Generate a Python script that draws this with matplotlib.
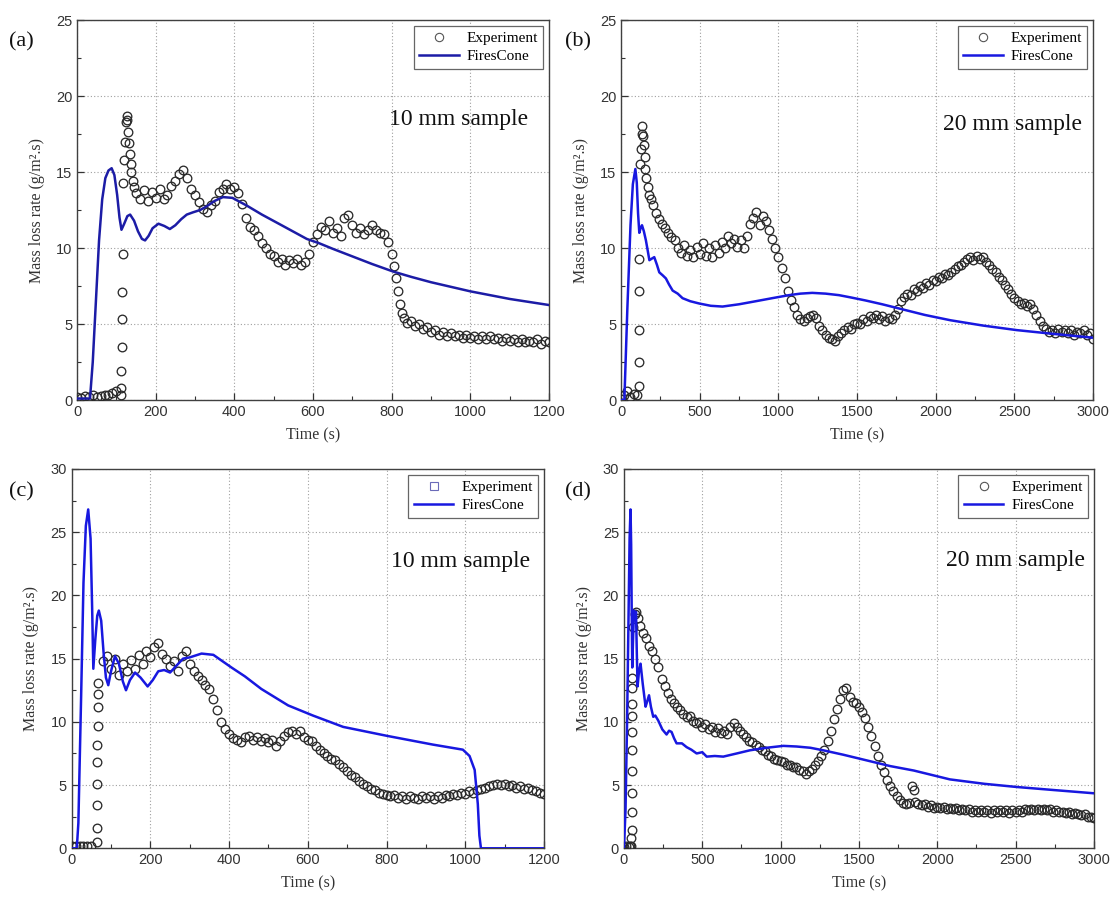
import matplotlib
matplotlib.use("Agg")
import matplotlib.pyplot as plt
from matplotlib.lines import Line2D
from matplotlib.ticker import MultipleLocator

# ---------------- Panel (a): 10 mm sample ----------------
a_exp_t = [0, 10, 20, 30, 40, 50, 60, 70, 80, 90, 100,
           112, 113, 113, 114, 114, 115, 116,
           118, 120, 122, 124, 126, 128, 130, 132, 134, 136, 138, 142, 146,
           150, 160, 170, 180, 190, 200, 210, 220, 230, 240, 250, 260, 270, 280, 290,
           300, 310, 320, 330, 340, 350, 360, 370, 380, 390, 400, 410, 420, 430, 440,
           450, 460, 470, 480, 490, 500, 510, 520, 530, 540, 550, 560, 570, 580, 590,
           600, 610, 620, 630, 640, 650, 660, 670, 680, 690, 700, 710, 720, 730, 740,
           750, 760, 770, 780, 790, 800, 805, 810, 815, 820, 825, 830, 840, 850, 860,
           870, 880, 890, 900, 910, 920, 930, 940, 950, 960, 970, 980, 990, 1000,
           1010, 1020, 1030, 1040, 1050, 1060, 1070, 1080, 1090, 1100, 1110, 1120,
           1130, 1140, 1150, 1160, 1170, 1180, 1190, 1200]
a_exp_y = [0.2, 0.15, 0.25, 0.2, 0.3, 0.2, 0.25, 0.3, 0.35, 0.45, 0.6,
           0.3, 0.8, 1.9, 3.5, 5.3, 7.1, 9.6,
           14.3, 15.8, 17.0, 18.3, 18.7, 18.4, 17.6, 16.9, 16.2, 15.5, 15.0, 14.4, 14.0,
           13.6, 13.2, 13.8, 13.1, 13.7, 13.3, 13.9, 13.2, 13.5, 14.1, 14.4, 14.9, 15.1, 14.6, 13.9,
           13.5, 13.0, 12.6, 12.4, 12.8, 13.1, 13.7, 13.9, 14.2, 13.9, 14.0, 13.6, 12.9, 12.0, 11.4,
           11.2, 10.8, 10.3, 10.0, 9.6, 9.5, 9.1, 9.3, 8.9, 9.2, 9.0, 9.3, 8.9, 9.1, 9.6,
           10.4, 10.9, 11.4, 11.2, 11.8, 11.0, 11.3, 10.8, 12.0, 12.2, 11.5, 11.0, 11.3, 10.9, 11.2,
           11.5, 11.2, 11.0, 10.9, 10.4, 9.6, 8.8, 8.0, 7.2, 6.3, 5.7, 5.4, 5.1, 5.2, 4.9,
           5.0, 4.7, 4.8, 4.5, 4.6, 4.3, 4.5, 4.2, 4.4, 4.2, 4.3, 4.1, 4.3, 4.1,
           4.2, 4.0, 4.2, 4.0, 4.2, 4.0, 4.1, 3.9, 4.1, 3.9, 4.0, 3.8,
           4.0, 3.8, 3.9, 3.8, 4.0, 3.7, 3.9, 3.8]
a_mod_t = [0, 33, 40, 48, 56, 64, 72, 80, 88, 95, 102, 108, 113, 120, 128, 135, 145,
           155, 165, 173, 182, 192, 207, 222, 236, 250, 265, 279, 295, 313, 330, 350,
           371, 395, 431, 470, 520, 584, 617, 650, 700, 750, 804, 850, 900, 950, 1000,
           1050, 1100, 1150, 1200]
a_mod_y = [0.1, 0.1, 2.5, 6.5, 10.5, 13.2, 14.6, 15.1, 15.25, 14.8, 13.5, 12.0, 11.2, 11.6,
           12.1, 12.2, 11.8, 11.1, 10.6, 10.5, 10.8, 11.3, 11.6, 11.45, 11.25, 11.5, 11.9, 12.2,
           12.35, 12.5, 12.75, 13.1, 13.35, 13.3, 12.8, 12.2, 11.5, 10.6, 10.3, 9.95, 9.45,
           8.95, 8.45, 8.1, 7.75, 7.45, 7.15, 6.9, 6.65, 6.45, 6.25]

# ---------------- Panel (b): 20 mm sample ----------------
b_exp_t = [0, 20, 40, 60, 80, 100,
           112, 112, 113, 113, 114,
           120, 125, 130, 135, 140, 145, 150, 155, 160, 170, 180, 190,
           200, 220, 240, 260, 280, 300, 320, 340, 360, 380, 400, 420, 440, 460, 480,
           500, 520, 540, 560, 580, 600, 620, 640, 660, 680, 700, 720, 740, 760, 780,
           800, 820, 840, 860, 880, 900, 920, 940, 960, 980, 1000, 1020, 1040, 1060, 1080,
           1100, 1120, 1140, 1160, 1180, 1200, 1220, 1240, 1260, 1280, 1300, 1320, 1340,
           1360, 1380, 1400, 1420, 1440, 1460, 1480, 1500, 1520, 1540, 1560, 1580, 1600,
           1620, 1640, 1660, 1680, 1700, 1720, 1740, 1760, 1780, 1800, 1820, 1840, 1860,
           1880, 1900, 1920, 1940, 1960, 1980, 2000, 2020, 2040, 2060, 2080, 2100, 2120,
           2140, 2160, 2180, 2200, 2220, 2240, 2260, 2280, 2300, 2320, 2340, 2360, 2380,
           2400, 2420, 2440, 2460, 2480, 2500, 2520, 2540, 2560, 2580, 2600, 2620, 2640,
           2660, 2680, 2700, 2720, 2740, 2760, 2780, 2800, 2820, 2840, 2860, 2880, 2900,
           2920, 2940, 2960, 2980, 3000]
b_exp_y = [0.1, 0.3, 0.6, 0.2, 0.4, 0.3,
           0.9, 2.5, 4.6, 7.2, 9.3,
           15.5, 16.5, 17.5, 18.0, 17.4, 16.8, 16.0, 15.2, 14.6, 14.0, 13.5, 13.2,
           12.8, 12.3, 11.9, 11.6, 11.3, 11.0, 10.7, 10.5, 10.0, 9.7, 10.2, 9.5, 9.9, 9.4, 10.1,
           9.6, 10.3, 9.5, 10.0, 9.4, 10.2, 9.7, 10.4, 10.0, 10.8, 10.3, 10.6, 10.1, 10.5, 10.0,
           10.8, 11.6, 12.0, 12.4, 11.5, 12.1, 11.8, 11.2, 10.6, 10.0, 9.4, 8.7, 8.0, 7.2, 6.6,
           6.1, 5.6, 5.3, 5.2, 5.4, 5.5, 5.6, 5.4, 4.9, 4.6, 4.3, 4.1, 4.0,
           3.9, 4.2, 4.4, 4.6, 4.8, 4.7, 5.0, 5.1, 5.0, 5.3, 5.2, 5.5, 5.4,
           5.6, 5.3, 5.5, 5.2, 5.4, 5.3, 5.6, 6.0, 6.5, 6.8, 7.0, 6.9, 7.3,
           7.2, 7.5, 7.4, 7.7, 7.6, 7.9, 7.8, 8.1, 8.0, 8.3, 8.2, 8.4, 8.6,
           8.8, 8.9, 9.1, 9.3, 9.4, 9.2, 9.5, 9.3, 9.4, 9.1, 8.9, 8.6, 8.4,
           8.1, 7.9, 7.6, 7.3, 7.0, 6.7, 6.5, 6.3, 6.4, 6.2, 6.3, 6.0, 5.6,
           5.2, 4.9, 4.7, 4.5, 4.6, 4.4, 4.7, 4.5, 4.6, 4.4, 4.6, 4.3, 4.5,
           4.4, 4.6, 4.3, 4.4, 4.0]
b_mod_t = [0, 21, 40, 60, 75, 91, 100, 108, 116, 124, 133, 145, 158, 170, 180, 195,
           211, 228, 243, 265, 285, 305, 328, 360, 391, 440, 497, 570, 645, 750, 856,
           960, 1067, 1140, 1215, 1300, 1385, 1460, 1554, 1660, 1776, 1930, 2093,
           2300, 2515, 2750, 3000]
b_mod_y = [0.0, 0.0, 6.0, 11.5, 14.2, 15.2, 14.3, 12.3, 11.0, 11.3, 11.5, 11.1, 10.5,
           9.8, 9.2, 9.3, 9.4, 8.9, 8.4, 8.2, 8.0, 7.6, 7.2, 7.0, 6.7, 6.5, 6.35, 6.2,
           6.15, 6.3, 6.5, 6.7, 6.9, 7.0, 7.05, 7.0, 6.9, 6.75, 6.55, 6.3, 6.0, 5.6,
           5.25, 4.9, 4.6, 4.35, 4.1]

# ---------------- Panel (c): 10 mm sample ----------------
c_exp_t = [0, 10, 20, 30, 40, 50,
           65, 65, 65, 65, 65, 65, 66, 66, 66, 66,
           80, 90, 100, 110, 120, 130, 140, 150, 160, 170, 180, 190, 200, 210, 220,
           230, 240, 250, 260, 270, 280, 290, 300, 310, 320, 330, 340, 350, 360, 370,
           380, 390, 400, 410, 420, 430, 440, 450, 460, 470, 480, 490, 500, 510, 520,
           530, 540, 550, 560, 570, 580, 590, 600, 610, 620, 630, 640, 650, 660, 670,
           680, 690, 700, 710, 720, 730, 740, 750, 760, 770, 780, 790, 800, 810, 820,
           830, 840, 850, 860, 870, 880, 890, 900, 910, 920, 930, 940, 950, 960, 970,
           980, 990, 1000, 1010, 1020, 1030, 1040, 1050, 1060, 1070, 1080, 1090, 1100,
           1110, 1120, 1130, 1140, 1150, 1160, 1170, 1180, 1190, 1200]
c_exp_y = [0.2, 0.2, 0.2, 0.2, 0.2, 0.2,
           0.5, 1.6, 3.4, 5.1, 6.8, 8.2, 9.7, 11.2, 12.2, 13.1,
           14.8, 15.2, 14.2, 15.0, 13.7, 14.6, 14.0, 14.9, 14.2, 15.3, 14.6, 15.6, 15.1, 15.9, 16.2,
           15.4, 15.0, 14.4, 14.8, 14.0, 15.2, 15.6, 14.6, 14.0, 13.6, 13.3, 12.9, 12.6, 11.8, 10.9,
           10.0, 9.4, 9.0, 8.7, 8.6, 8.4, 8.8, 8.9, 8.6, 8.8, 8.5, 8.7, 8.4, 8.6, 8.1,
           8.5, 8.9, 9.2, 9.3, 9.0, 9.3, 8.8, 8.6, 8.5, 8.1, 7.8, 7.5, 7.3, 7.1, 7.0,
           6.7, 6.4, 6.1, 5.8, 5.6, 5.3, 5.1, 4.9, 4.7, 4.6, 4.4, 4.3, 4.2, 4.1, 4.2,
           4.0, 4.1, 3.9, 4.1, 4.0, 3.9, 4.1, 4.0, 4.1, 3.9, 4.1, 4.0, 4.2, 4.1, 4.3,
           4.2, 4.4, 4.3, 4.5, 4.4, 4.6, 4.7, 4.8, 4.9, 5.0, 5.1, 5.0, 5.1,
           4.9, 5.0, 4.8, 4.9, 4.7, 4.8, 4.6, 4.5, 4.4, 4.3]
c_mod_t = [0, 13, 17, 24, 30, 36, 42, 48, 52, 55, 60, 65, 69, 75, 81, 87, 93, 100,
           110, 120, 130, 138, 148, 161, 175, 193, 206, 220, 235, 250, 265, 283, 300,
           330, 360, 406, 440, 482, 550, 613, 690, 800, 918, 994, 1011, 1024, 1032,
           1036, 1040, 1100, 1200]
c_mod_y = [0.0, 0.0, 2.0, 12.0, 21.0, 25.5, 26.8, 24.5, 19.0, 14.2, 16.5, 18.4, 18.8,
           18.0, 15.5, 13.5, 12.9, 14.0, 15.2, 14.6, 13.2, 12.5, 13.3, 13.9, 13.5, 12.8,
           13.3, 14.0, 14.1, 13.9, 14.4, 15.0, 15.1, 15.4, 15.3, 14.3, 13.6, 12.6, 11.3,
           10.5, 9.6, 8.9, 8.2, 7.8, 7.3, 6.2, 3.5, 1.0, 0.0, 0.0, 0.0]

# ---------------- Panel (d): 20 mm sample ----------------
d_exp_t = [0, 15, 30, 40,
           48, 48, 49, 49, 49, 50, 50, 50, 51, 51, 52, 52,
           60, 70, 80, 90, 100, 120, 140, 160, 180, 200, 220, 240, 260, 280, 300,
           320, 340, 360, 380, 400, 420, 440, 460, 480, 500, 520, 540, 560, 580, 600,
           620, 640, 660, 680, 700, 720, 740, 760, 780, 800, 820, 840, 860, 880, 900,
           920, 940, 960, 980, 1000, 1020, 1040, 1060, 1080, 1100, 1120, 1140, 1160,
           1180, 1200, 1220, 1240, 1260, 1280, 1300, 1320, 1340, 1360, 1380, 1400, 1420,
           1440, 1460, 1480, 1500, 1520, 1540, 1560, 1580, 1600, 1620, 1640, 1660, 1680,
           1700, 1720, 1740, 1760, 1780, 1800, 1820, 1840, 1850, 1860, 1880, 1900, 1920,
           1940, 1960, 1980, 2000, 2020, 2040, 2060, 2080, 2100, 2120, 2140, 2160, 2180,
           2200, 2220, 2240, 2260, 2280, 2300, 2320, 2340, 2360, 2380, 2400, 2420, 2440,
           2460, 2480, 2500, 2520, 2540, 2560, 2580, 2600, 2620, 2640, 2660, 2680, 2700,
           2720, 2740, 2760, 2780, 2800, 2820, 2840, 2860, 2880, 2900, 2920, 2940, 2960,
           2980, 3000]
d_exp_y = [0.1, 0.2, 0.1, 0.2,
           0.15, 0.8, 1.45, 2.9, 4.4, 6.1, 7.8, 9.2, 10.5, 11.4, 12.7, 13.5,
           17.5, 18.5, 18.7, 18.2, 17.6, 17.0, 16.6, 16.0, 15.6, 15.0, 14.3, 13.4, 12.8, 12.3, 11.8,
           11.5, 11.2, 10.9, 10.6, 10.4, 10.5, 10.1, 9.9, 10.0, 9.6, 9.8, 9.4, 9.6, 9.2, 9.5,
           9.1, 9.3, 9.0, 9.6, 9.9, 9.6, 9.3, 9.0, 8.8, 8.5, 8.4, 8.2, 8.0, 7.8, 7.7,
           7.4, 7.3, 7.1, 7.0, 6.9, 6.8, 6.6, 6.6, 6.4, 6.4, 6.2, 6.1, 5.9,
           6.1, 6.3, 6.6, 6.9, 7.3, 7.8, 8.5, 9.3, 10.2, 11.0, 11.8, 12.5, 12.7,
           12.0, 11.6, 11.5, 11.2, 10.8, 10.3, 9.6, 8.9, 8.1, 7.3, 6.6, 6.0, 5.4,
           4.9, 4.5, 4.1, 3.8, 3.6, 3.5, 3.6, 4.9, 4.6, 3.7, 3.5, 3.4, 3.5,
           3.3, 3.4, 3.2, 3.3, 3.2, 3.3, 3.1, 3.2, 3.1, 3.2, 3.0, 3.1, 3.0,
           3.1, 2.9, 3.0, 2.9, 3.0, 2.9, 3.0, 2.8, 3.0, 2.9, 3.0, 2.9, 3.0,
           2.8, 3.0, 2.9, 3.0, 2.9, 3.1, 3.0, 3.1, 3.0, 3.1, 3.0, 3.1, 3.0,
           3.1, 2.9, 3.0, 2.9, 2.9, 2.8, 2.9, 2.7, 2.8, 2.7, 2.6, 2.7, 2.5,
           2.5, 2.4]
d_mod_t = [0, 10, 20, 30, 36, 42, 46, 50, 53, 58, 64, 70, 77, 82, 87, 96, 106, 120,
           138, 148, 160, 172, 187, 200, 219, 245, 272, 288, 304, 320, 336, 370, 400,
           430, 464, 500, 528, 580, 634, 720, 804, 910, 1017, 1102, 1190, 1272, 1400,
           1500, 1600, 1700, 1850, 2080, 2300, 2506, 2750, 3000]
d_mod_y = [0.0, 3.0, 10.0, 19.0, 24.5, 26.8, 24.0, 18.0, 14.3, 16.5, 18.8, 18.5, 18.7,
           15.5, 12.8, 14.0, 14.6, 13.0, 11.2, 11.6, 12.1, 11.2, 10.4, 10.5, 10.1, 9.4,
           9.0, 9.3, 9.2, 8.7, 8.3, 8.3, 8.0, 7.8, 7.5, 7.6, 7.25, 7.3, 7.25, 7.5, 7.75,
           7.95, 8.1, 8.05, 7.95, 7.75, 7.4, 7.1, 6.8, 6.5, 6.15, 5.45, 5.1, 4.85, 4.6, 4.35]

panel_labels = ["(a)", "(b)", "(c)", "(d)"]
sample_texts = ["10 mm sample", "20 mm sample", "10 mm sample", "20 mm sample"]
x_limits = [1200, 3000, 1200, 3000]
x_major = [200, 500, 200, 500]
y_limits = [25, 25, 30, 30]
legend_labels = ["Experiment", "FiresCone"]

SERIF = "Liberation Serif"
SANS = "Liberation Sans"

fig = plt.figure(figsize=(11.13, 9.01), dpi=100)
positions = [
    [0.0692, 0.5560, 0.4241, 0.4218],
    [0.5580, 0.5560, 0.4241, 0.4218],
    [0.0644, 0.0585, 0.4243, 0.4210],
    [0.5606, 0.0585, 0.4223, 0.4210],
]
label_pos = [(0.008, 0.953), (0.508, 0.953), (0.008, 0.454), (0.508, 0.454)]
text_pos = [(0.955, 0.737), (0.977, 0.724), (0.971, 0.755), (0.981, 0.76)]

data = [
    (a_exp_t, a_exp_y, a_mod_t, a_mod_y, "#1c1ca6"),
    (b_exp_t, b_exp_y, b_mod_t, b_mod_y, "#1818e0"),
    (c_exp_t, c_exp_y, c_mod_t, c_mod_y, "#1818e0"),
    (d_exp_t, d_exp_y, d_mod_t, d_mod_y, "#1818e0"),
]

for i in range(4):
    ax = fig.add_axes(positions[i])
    et, ey, mt, my, lc = data[i]
    ax.plot(et, ey, ls="none", marker="o", ms=6.2, mfc="none", mec="#2a2a2a",
            mew=0.95, zorder=3)
    ax.plot(mt, my, color=lc, lw=1.8, zorder=4)
    ax.set_xlim(0, x_limits[i])
    ax.set_ylim(0, y_limits[i])
    ax.xaxis.set_major_locator(MultipleLocator(x_major[i]))
    ax.xaxis.set_minor_locator(MultipleLocator(x_major[i] / 2))
    ax.yaxis.set_major_locator(MultipleLocator(5))
    ax.yaxis.set_minor_locator(MultipleLocator(2.5))
    ax.tick_params(which="both", direction="in", top=False, right=False,
                   colors="#333333", labelsize=10.5)
    ax.tick_params(which="major", length=5, width=0.9)
    ax.tick_params(which="minor", length=3, width=0.8)
    for lab in ax.get_xticklabels() + ax.get_yticklabels():
        lab.set_fontfamily(SANS)
    ax.grid(True, which="major", ls=(0, (1, 2)), color="#a0a0a0", lw=0.8)
    for sp in ax.spines.values():
        sp.set_color("#404040")
        sp.set_linewidth(1.0)
    ax.set_xlabel("Time (s)", fontfamily=SERIF, fontsize=11.5, color="#333333",
                  labelpad=6)
    ax.set_ylabel("Mass loss rate (g/m\u00b2.s)", fontfamily=SERIF, fontsize=11.5,
                  color="#333333", labelpad=8)
    ax.text(text_pos[i][0], text_pos[i][1], sample_texts[i], transform=ax.transAxes,
            ha="right", va="center", fontfamily=SERIF, fontsize=17, color="#111111")
    fig.text(label_pos[i][0], label_pos[i][1], panel_labels[i], fontfamily=SERIF,
             fontsize=16, color="#111111", ha="left", va="center")
    if i == 2:
        exp_handle = Line2D([], [], ls="none", marker="s", ms=6, mfc="none",
                            mec="#6a6ab8", mew=0.8)
    else:
        exp_handle = Line2D([], [], ls="none", marker="o", ms=6, mfc="none",
                            mec="#555555", mew=0.8)
    mod_handle = Line2D([], [], color=lc, lw=1.8)
    leg = ax.legend([exp_handle, mod_handle], legend_labels, loc="upper right",
                    prop={"family": SERIF, "size": 11}, fancybox=False,
                    framealpha=1, edgecolor="#666666", handlelength=2.6,
                    borderaxespad=0.4, borderpad=0.35, labelspacing=0.3,
                    handletextpad=0.5)
    leg.get_frame().set_linewidth(0.9)
    leg.set_zorder(5)

fig.savefig("out.png", dpi=100)
